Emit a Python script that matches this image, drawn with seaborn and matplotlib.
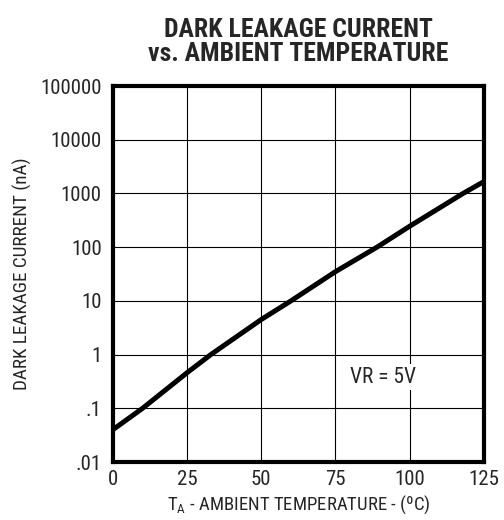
import matplotlib
matplotlib.use('Agg')
import matplotlib.pyplot as plt
import matplotlib.font_manager as fm
import seaborn as sns
import pandas as pd

temp_c = [0, 10, 25, 33, 50, 60, 75, 89, 100, 118, 125]
leak_na = [0.04, 0.1, 0.46, 1, 4.5, 10, 35, 100, 245, 1000, 1660]
x_ticks = [0, 25, 50, 75, 100, 125]
y_ticks = [0.01, 0.1, 1, 10, 100, 1000, 10000, 100000]
y_labels = ['.01', '.1', '1', '10', '100', '1000', '10000', '100000']

sns.set_style('white')
names = {f.name for f in fm.fontManager.ttflist}
fam = [n for n in ['Roboto Condensed', 'Liberation Sans Narrow', 'Liberation Sans'] if n in names]
plt.rcParams['font.family'] = fam + ['DejaVu Sans']

df = pd.DataFrame({'T': temp_c, 'I': leak_na})

fig = plt.figure(figsize=(5.04, 5.2), dpi=100)
ax = fig.add_axes([0.224, 0.1115, 0.736, 0.7231])
sns.lineplot(data=df, x='T', y='I', ax=ax, color='black', linewidth=3.6)
ax.set_yscale('log')
ax.set_xlim(0, 125)
ax.set_ylim(0.01, 100000)
ax.set_xticks(x_ticks)
ax.set_yticks(y_ticks)
ax.set_yticklabels(y_labels)
ax.minorticks_off()
ax.tick_params(length=0, labelsize=15, pad=6)
ax.tick_params(axis='y', pad=8)
ax.grid(True, color='black', linewidth=0.8)
for s in ax.spines.values():
    s.set_linewidth(3)
    s.set_color('black')

ax.text(80, 0.3, 'VR = 5V', fontsize=15.5,
        bbox=dict(facecolor='white', edgecolor='none', pad=2))
ax.set_xlabel('T$_\\mathregular{A}$ - AMBIENT TEMPERATURE - (ºC)', fontsize=13.5, labelpad=3)
ax.set_ylabel('DARK LEAKAGE CURRENT (nA)', fontsize=13.8, labelpad=6)
ax.set_title('DARK LEAKAGE CURRENT\nvs. AMBIENT TEMPERATURE', fontsize=18.5,
             fontweight='heavy', pad=18, linespacing=1.0)

fig.savefig('out.png', dpi=100)
